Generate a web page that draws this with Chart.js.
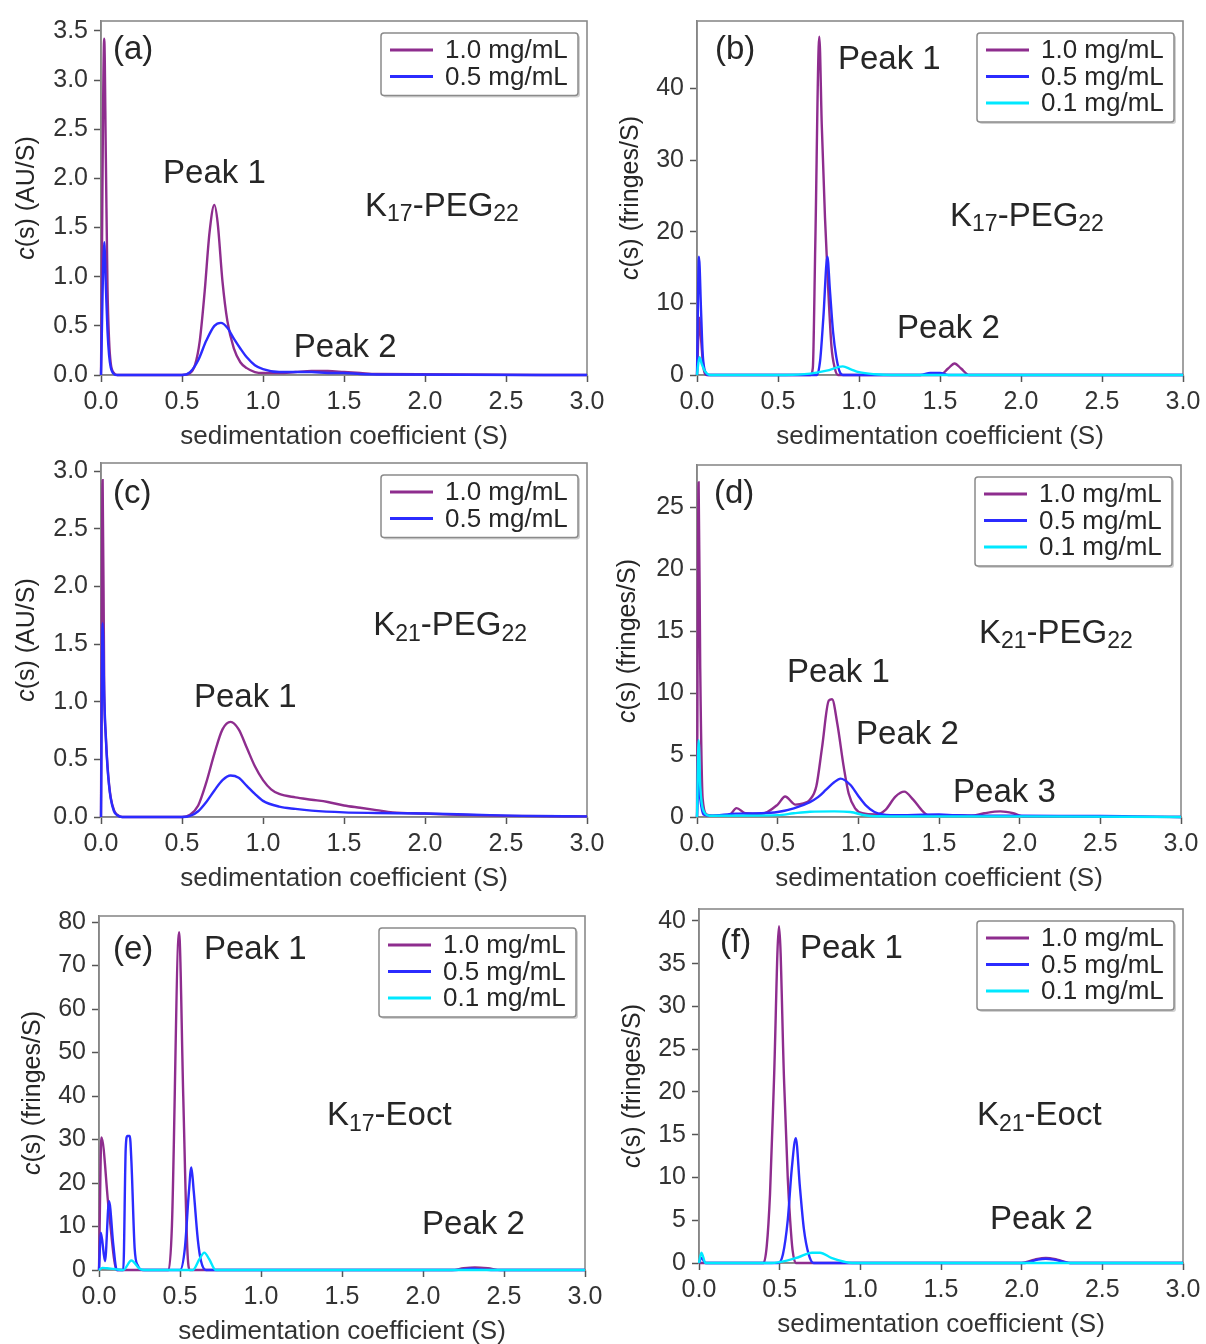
<!DOCTYPE html>
<html><head><meta charset="utf-8">
<script src="https://cdn.jsdelivr.net/npm/chart.js@4.4.1/dist/chart.umd.min.js"></script>
<style>
html,body{margin:0;padding:0;background:#fff;width:1206px;height:1344px;overflow:hidden;}
canvas{position:absolute;}
</style></head><body>
<canvas id="pa"></canvas><canvas id="pb"></canvas><canvas id="pc"></canvas>
<canvas id="pd"></canvas><canvas id="pe"></canvas><canvas id="pf"></canvas>
<script>
// ---------- shared labels ----------
const seriesNames = ['1.0 mg/mL', '0.5 mg/mL', '0.1 mg/mL'];
const xTitle = 'sedimentation coefficient (S)';
const xTickValues = [0, 0.5, 1.0, 1.5, 2.0, 2.5, 3.0];

// ---------- panel (a) K17-PEG22, absorbance ----------
const aX1 = [0, 0.02, 0.03, 0.04, 0.05, 0.06, 0.08, 0.1, 0.5, 0.55, 0.58, 0.61, 0.64, 0.67, 0.70, 0.72, 0.75, 0.78, 0.82, 0.86, 0.9, 0.95, 1.0, 1.1, 1.2, 1.3, 1.4, 1.5, 1.6, 1.7, 3.0];
const aY1 = [0, 3.42, 2.2, 0.9, 0.35, 0.12, 0.02, 0, 0, 0.02, 0.1, 0.35, 0.85, 1.45, 1.73, 1.55, 0.95, 0.55, 0.27, 0.13, 0.07, 0.03, 0.02, 0.02, 0.03, 0.04, 0.04, 0.03, 0.02, 0.01, 0];
const aX2 = [0, 0.02, 0.03, 0.04, 0.05, 0.06, 0.08, 0.1, 0.5, 0.55, 0.6, 0.65, 0.7, 0.74, 0.78, 0.82, 0.86, 0.9, 0.95, 1.0, 1.1, 1.2, 1.3, 1.4, 1.5, 1.6, 1.8, 3.0];
const aY2 = [0, 1.35, 0.9, 0.45, 0.2, 0.08, 0.01, 0, 0, 0.03, 0.15, 0.35, 0.5, 0.53, 0.48, 0.37, 0.27, 0.18, 0.1, 0.06, 0.03, 0.03, 0.03, 0.02, 0.02, 0.01, 0.005, 0];

// ---------- panel (b) K17-PEG22, interference ----------
const bX1 = [0, 0.015, 0.025, 0.04, 0.06, 0.7, 0.715, 0.73, 0.755, 0.77, 0.79, 0.81, 0.83, 0.85, 0.87, 1.5, 1.55, 1.59, 1.63, 1.68, 3.0];
const bY1 = [0, 8, 5, 1, 0, 0, 1, 18, 47.2, 35, 22, 12, 4, 1, 0, 0, 0.9, 1.6, 0.9, 0, 0];
const bX2 = [0, 0.012, 0.025, 0.035, 0.05, 0.07, 0.74, 0.76, 0.78, 0.805, 0.82, 0.84, 0.86, 0.88, 0.9, 1.38, 1.44, 1.5, 1.55, 3.0];
const bY2 = [0, 16.5, 9, 3, 0.5, 0, 0, 2, 8, 16.5, 12, 6, 2.5, 0.5, 0, 0, 0.3, 0.3, 0, 0];
const bX3 = [0, 0.015, 0.03, 0.05, 0.08, 0.55, 0.7, 0.8, 0.9, 0.95, 1.0, 1.1, 1.2, 3.0];
const bY3 = [0, 2.5, 1.5, 0.5, 0, 0, 0.2, 0.6, 1.2, 0.8, 0.4, 0.1, 0, 0];

// ---------- panel (c) K21-PEG22, absorbance ----------
const cX1 = [0, 0.01, 0.02, 0.03, 0.04, 0.05, 0.06, 0.08, 0.1, 0.13, 0.5, 0.55, 0.6, 0.65, 0.7, 0.75, 0.8, 0.85, 0.9, 0.95, 1.0, 1.05, 1.1, 1.2, 1.3, 1.4, 1.5, 1.6, 1.7, 1.8, 2.0, 2.2, 2.5, 3.0];
const cY1 = [0, 2.92, 1.1, 0.7, 0.45, 0.28, 0.17, 0.06, 0.02, 0, 0, 0.02, 0.1, 0.3, 0.55, 0.76, 0.825, 0.76, 0.6, 0.44, 0.32, 0.24, 0.2, 0.17, 0.15, 0.13, 0.1, 0.08, 0.06, 0.04, 0.03, 0.02, 0.01, 0.005];
const cX2 = [0, 0.01, 0.02, 0.03, 0.04, 0.05, 0.06, 0.08, 0.1, 0.13, 0.5, 0.55, 0.6, 0.65, 0.7, 0.75, 0.8, 0.85, 0.9, 0.95, 1.0, 1.1, 1.2, 1.3, 1.5, 1.7, 2.0, 2.3, 2.6, 3.0];
const cY2 = [0, 1.68, 1.05, 0.68, 0.43, 0.27, 0.16, 0.05, 0.015, 0, 0, 0.01, 0.05, 0.13, 0.23, 0.32, 0.36, 0.34, 0.27, 0.2, 0.14, 0.09, 0.07, 0.055, 0.04, 0.035, 0.03, 0.02, 0.01, 0.005];

// ---------- panel (d) K21-PEG22, interference ----------
const dX1 = [0, 0.01, 0.02, 0.035, 0.06, 0.1, 0.2, 0.245, 0.3, 0.4, 0.5, 0.546, 0.61, 0.66, 0.7, 0.74, 0.775, 0.817, 0.837, 0.87, 0.91, 0.94, 0.98, 1.025, 1.11, 1.17, 1.23, 1.285, 1.34, 1.4, 1.44, 1.5, 1.6, 1.7, 1.78, 1.88, 1.96, 2.02, 2.5, 3.0];
const dY1 = [0, 27, 12, 1.5, 0.2, 0.1, 0.15, 0.72, 0.3, 0.25, 1.0, 1.65, 1.0, 1.1, 1.4, 2.5, 5.6, 9.4, 9.5, 7.5, 4.0, 1.9, 0.7, 0.3, 0.2, 0.6, 1.65, 2.05, 1.4, 0.45, 0.1, 0.1, 0.15, 0.1, 0.3, 0.45, 0.3, 0.05, 0.03, 0];
const dX2 = [0, 0.01, 0.02, 0.04, 0.08, 0.24, 0.4, 0.5, 0.6, 0.7, 0.75, 0.8, 0.85, 0.89, 0.95, 1.0, 1.05, 1.1, 1.15, 1.2, 1.5, 1.6, 2.0, 2.5, 2.7, 3.0];
const dY2 = [0, 3, 1.5, 0.2, 0.1, 0.27, 0.3, 0.4, 0.7, 1.2, 1.6, 2.2, 2.8, 3.1, 2.6, 1.7, 0.9, 0.4, 0.2, 0.15, 0.2, 0.15, 0.1, 0.08, 0.05, 0];
const dX3 = [0, 0.01, 0.02, 0.04, 0.08, 0.5, 0.6, 0.7, 0.85, 0.95, 1.05, 1.2, 2.0, 3.0];
const dY3 = [0, 6.2, 2.5, 0.5, 0.1, 0.15, 0.3, 0.42, 0.45, 0.4, 0.12, 0.05, 0.05, 0];

// ---------- panel (e) K17-Eoct, interference ----------
const eX1 = [0, 0.015, 0.06, 0.11, 0.43, 0.45, 0.494, 0.52, 0.545, 0.56, 2.18, 2.25, 2.32, 2.4, 2.48, 3.0];
const eY1 = [0, 30.5, 14, 0, 0, 10, 77.7, 40, 5, 0, 0, 0.4, 0.6, 0.4, 0, 0];
const eX2 = [0, 0.012, 0.037, 0.062, 0.088, 0.11, 0.15, 0.165, 0.175, 0.19, 0.2, 0.22, 0.24, 0.27, 0.5, 0.53, 0.555, 0.57, 0.585, 0.61, 0.63, 0.66, 2.2, 2.3, 2.42, 3.0];
const eY2 = [0, 8.6, 2, 15.8, 5.9, 0, 0, 28, 30.8, 30.8, 25, 5, 1, 0, 0, 5, 18, 23.6, 18, 7, 2, 0, 0, 0.3, 0, 0];
const eX3 = [0, 0.02, 0.05, 0.1, 0.15, 0.2, 0.25, 0.28, 0.58, 0.62, 0.65, 0.68, 0.72, 3.0];
const eY3 = [0, 0.5, 0.4, 0.2, 0, 2.2, 0.3, 0, 0, 2.5, 4, 2.5, 0, 0];

// ---------- panel (f) K21-Eoct, interference ----------
const fX1 = [0, 0.4, 0.42, 0.44, 0.465, 0.496, 0.527, 0.55, 0.565, 0.58, 0.6, 2.0, 2.08, 2.15, 2.22, 2.3, 3.0];
const fY1 = [0, 0, 2, 8, 21.5, 39.4, 21.5, 10, 5, 1.5, 0, 0, 0.4, 0.6, 0.4, 0, 0];
const fX2 = [0, 0.015, 0.04, 0.49, 0.52, 0.55, 0.575, 0.6, 0.625, 0.65, 0.68, 0.71, 2.02, 2.1, 2.15, 2.2, 2.3, 3.0];
const fY2 = [0, 0.6, 0, 0, 1, 5, 11, 14.6, 9, 4, 1, 0, 0, 0.4, 0.5, 0.4, 0, 0];
const fX3 = [0, 0.015, 0.04, 0.45, 0.55, 0.62, 0.7, 0.75, 0.82, 0.9, 0.95, 3.0];
const fY3 = [0, 1.2, 0, 0, 0.3, 0.7, 1.2, 1.2, 0.6, 0.15, 0, 0];

// ---------- panel texts ----------
const aNotes = [['(a)', 0.074, 3.31], ['Peak 1', 0.383, 2.04], ['K{17}-PEG{22}', 1.63, 1.71], ['Peak 2', 1.19, 0.28]];
const bNotes = [['(b)', 0.111, 45.4], ['Peak 1', 0.87, 44.0], ['K{17}-PEG{22}', 1.562, 22.1], ['Peak 2', 1.235, 6.5]];
const cNotes = [['(c)', 0.074, 2.80], ['K{21}-PEG{22}', 1.68, 1.655], ['Peak 1', 0.574, 1.03]];
const dNotes = [['(d)', 0.105, 26.1], ['K{21}-PEG{22}', 1.748, 14.8], ['Peak 1', 0.558, 11.6], ['Peak 2', 0.986, 6.6], ['Peak 3', 1.587, 1.92]];
const eNotes = [['(e)', 0.086, 73.6], ['Peak 1', 0.648, 73.6], ['K{17}-Eoct', 1.407, 35.4], ['Peak 2', 1.994, 10.3]];
const fNotes = [['(f)', 0.13, 37.4], ['Peak 1', 0.626, 36.75], ['K{21}-Eoct', 1.723, 17.2], ['Peak 2', 1.804, 5.0]];

// ---------- styling / layout ----------
const COLORS = ['#8e2d8e', '#2b2bff', '#00e8ff'];
const FONT = '"Liberation Sans", Arial, sans-serif';
const TEXT = '#262626';
const AXW = 101, PADT = 18, PADR = 24, AXH = 77;

const panels = [
  {id:'pa', area:[101, 18, 587, 375], yMax:3.6, yStep:0.5, dec:1, unit:'AU/S', tOff:74,
   series:[[aX1,aY1],[aX2,aY2]], notes:aNotes},
  {id:'pb', area:[697, 18, 1183, 375], yMax:49.4, yStep:10, dec:0, unit:'fringes/S', tOff:66,
   series:[[bX1,bY1],[bX2,bY2],[bX3,bY3]], notes:bNotes},
  {id:'pc', area:[101, 460, 587, 817], yMax:3.07, yStep:0.5, dec:1, unit:'AU/S', tOff:74,
   series:[[cX1,cY1],[cX2,cY2]], notes:cNotes},
  {id:'pd', area:[697, 462, 1181, 817], yMax:28.4, yStep:5, dec:0, unit:'fringes/S', tOff:69,
   series:[[dX1,dY1],[dX2,dY2],[dX3,dY3]], notes:dNotes},
  {id:'pe', area:[99, 913, 585, 1270], yMax:81.4, yStep:10, dec:0, unit:'fringes/S', tOff:66,
   series:[[eX1,eY1],[eX2,eY2],[eX3,eY3]], notes:eNotes},
  {id:'pf', area:[699, 906, 1183, 1263], yMax:41.4, yStep:5, dec:0, unit:'fringes/S', tOff:66,
   series:[[fX1,fY1],[fX2,fY2],[fX3,fY3]], notes:fNotes},
];

function parseRich(s) {
  const out = []; const re = /([^{]+)|\{([^}]*)\}/g; let m;
  while ((m = re.exec(s))) { if (m[1]) out.push({t:m[1]}); else out.push({t:m[2], sub:true}); }
  return out;
}
function richWidth(ctx, segs, size) {
  let w = 0;
  for (const s of segs) {
    const fs = s.sub ? Math.round(size * 0.7) : size;
    ctx.font = (s.it ? 'italic ' : '') + fs + 'px ' + FONT;
    w += ctx.measureText(s.t).width;
  }
  return w;
}
function drawRich(ctx, segs, x, y, size) {
  let cx = x;
  ctx.textBaseline = 'middle'; ctx.textAlign = 'left';
  for (const s of segs) {
    const fs = s.sub ? Math.round(size * 0.7) : size;
    ctx.font = (s.it ? 'italic ' : '') + fs + 'px ' + FONT;
    ctx.fillText(s.t, cx, y + (s.sub ? size * 0.25 : 0));
    cx += ctx.measureText(s.t).width;
  }
}

const decor = {
  id: 'decor',
  beforeDatasetsDraw(chart) {
    const {ctx, chartArea: a} = chart;
    ctx.save();
    ctx.strokeStyle = '#8a8a8a'; ctx.lineWidth = 1.6;
    ctx.strokeRect(a.left, a.top, a.right - a.left, a.bottom - a.top);
    ctx.restore();
  },
  afterDraw(chart) {
    const p = chart.options.plugins.decor;
    const {ctx, chartArea: a, scales} = chart;
    ctx.save();
    ctx.fillStyle = TEXT;
    // annotations
    for (const [txt, xv, yv] of p.notes) {
      drawRich(ctx, parseRich(txt), scales.x.getPixelForValue(xv), scales.y.getPixelForValue(yv), 33);
    }
    // y title
    const segs = [{t:'c', it:true}, {t:'(s) (' + p.unit + ')'}];
    ctx.save();
    ctx.translate(a.left - p.tOff, (a.top + a.bottom) / 2);
    ctx.rotate(-Math.PI / 2);
    const tw = richWidth(ctx, segs, 25);
    drawRich(ctx, segs, -tw / 2, 0, 25);
    ctx.restore();
    // legend
    const n = chart.data.datasets.length;
    const bw = 197, rowH = 26.5;
    const bh = (n - 1) * rowH + 36;
    const bx = a.right - 9 - bw, by = a.top + 12;
    ctx.fillStyle = 'rgba(0,0,0,0.18)';
    ctx.beginPath(); ctx.roundRect(bx + 2, by + 2, bw, bh, 3); ctx.fill();
    ctx.fillStyle = '#fff';
    ctx.beginPath(); ctx.roundRect(bx, by, bw, bh, 3); ctx.fill();
    ctx.strokeStyle = '#8a8a8a'; ctx.lineWidth = 1.5; ctx.stroke();
    chart.data.datasets.forEach((ds, i) => {
      const ry = by + 17 + i * rowH;
      ctx.strokeStyle = ds.borderColor; ctx.lineWidth = 3.2;
      ctx.beginPath(); ctx.moveTo(bx + 9, ry); ctx.lineTo(bx + 52, ry); ctx.stroke();
      ctx.fillStyle = TEXT; ctx.font = '26px ' + FONT;
      ctx.textBaseline = 'middle'; ctx.textAlign = 'left';
      ctx.fillText(ds.label, bx + 64, ry + 1);
    });
    ctx.restore();
  }
};

for (const P of panels) {
  const [l, t, r, b] = P.area;
  const cv = document.getElementById(P.id);
  const W = AXW + (r - l) + PADR, H = PADT + (b - t) + AXH;
  cv.width = W; cv.height = H;
  cv.style.left = (l - AXW) + 'px'; cv.style.top = (t - PADT) + 'px';
  const datasets = P.series.map(([xs, ys], i) => ({
    label: seriesNames[i],
    data: xs.map((x, k) => ({x: x, y: ys[k]})),
    borderColor: COLORS[i], borderWidth: 2.4, pointRadius: 0, showLine: true,
    cubicInterpolationMode: 'monotone', fill: false, clip: false, order: 3 - i
  }));
  new Chart(cv, {
    type: 'scatter',
    data: {datasets},
    plugins: [decor],
    options: {
      responsive: false, animation: false, devicePixelRatio: 1,
      layout: {padding: {left: 0, top: PADT, right: PADR, bottom: 0}},
      plugins: {legend: {display: false}, tooltip: {enabled: false},
                decor: {notes: P.notes, unit: P.unit, tOff: P.tOff}},
      scales: {
        x: {type: 'linear', min: 0, max: 3,
            afterFit: s => { s.height = AXH; },
            afterBuildTicks: s => { s.ticks = xTickValues.map(v => ({value: v})); },
            ticks: {callback: v => Number(v).toFixed(1), color: '#333', font: {family: FONT, size: 25}, padding: 5, maxRotation: 0, autoSkip: false},
            grid: {drawOnChartArea: false, drawTicks: true, tickLength: 7, color: '#555', tickWidth: 1.5},
            border: {display: true, color: '#777', width: 1.5},
            title: {display: true, text: xTitle, color: '#333', font: {family: FONT, size: 26}, padding: {top: 0, bottom: 0}}},
        y: {type: 'linear', min: 0, max: P.yMax,
            afterFit: s => { s.width = AXW; },
            ticks: {stepSize: P.yStep, includeBounds: false, callback: v => Number(v).toFixed(P.dec), color: '#333', font: {family: FONT, size: 25}, padding: 6},
            grid: {drawOnChartArea: false, drawTicks: true, tickLength: 7, color: '#555', tickWidth: 1.5},
            border: {display: true, color: '#777', width: 1.5}}
      }
    }
  });
}
</script>
</body></html>
